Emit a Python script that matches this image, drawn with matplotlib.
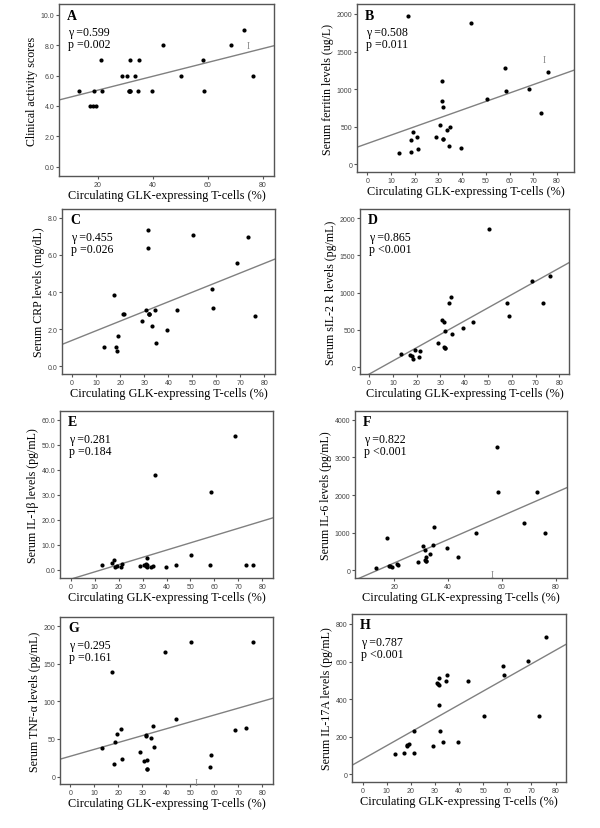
import numpy as np
import matplotlib
matplotlib.use("Agg")
import matplotlib.pyplot as plt

# Shared x: circulating GLK-expressing T-cells (%)
glk = [13.3, 17.3, 18.2, 18.6, 19.3, 21.1, 21.5, 29.0, 30.8, 31.4, 31.5, 31.8, 31.8,
       31.9, 33.4, 34.5, 35.0, 39.6, 43.8, 50.4, 58.1, 58.6, 68.4, 73.2, 76.2]

activity = [5, 4, 4, 5, 4, 7, 5, 6, 6, 5, 5, 7, 5, 5, 6, 5, 7, 5, 8, 6, 7, 5, 8, 9, 6]
ferritin = [155, 1969, 168, 327, 429, 358, 204, 358, 522, 1110, 836, 761, 336, 336,
            460, 239, 500, 217, 1876, 872, 1288, 982, 996, 677, 1230]
crp = [1.04, 3.84, 1.04, 0.84, 1.63, 2.80, 2.83, 2.44, 3.03, 7.35, 6.39, 2.83, 2.80,
       2.80, 2.19, 3.05, 1.24, 1.96, 3.01, 7.05, 4.14, 3.14, 5.54, 6.94, 2.71]
sil2r = [179, 161, 152, 103, 229, 130, 220, 327, 632, 601, 269, 480, 256, 256,
         857, 946, 439, 520, 605, 1857, 857, 682, 1152, 857, 1224]
il1b = [2.0, 2.8, 4.0, 1.2, 1.6, 1.3, 2.5, 1.6, 2.1, 2.5, 1.7, 4.8, 1.3, 2.0,
        1.2, 1.7, 38.1, 1.3, 2.1, 5.8, 2.1, 31.2, 53.7, 2.1, 2.1]
il6 = [71, 865, 124, 106, 88, 159, 141, 212, 636, 274, 539, 362, 238, 238,
       433, 680, 1157, 583, 344, 998, 3267, 2093, 1245, 2075, 998]
tnfa = [37.7, 138.8, 17.3, 46.6, 57.2, 63.4, 23.1, 33.3, 20.8, 54.1, 55.4, 22.6, 10.2,
        10.2, 51.9, 67.4, 39.9, 165.0, 76.7, 178.3, 12.4, 28.8, 61.6, 64.7, 178.3]
il17a = [106, 115, 149, 156, 163, 230, 111, 149, 488, 480, 370, 510, 476, 228,
         172, 499, 531, 173, 496, 310, 575, 529, 605, 310, 733]

letters = ["A", "B", "C", "D", "E", "F", "G", "H"]
ylabels = ["Clinical activity scores", "Serum ferritin levels (ug/L)",
           "Serum CRP levels (mg/dL)", "Serum sIL-2 R levels (pg/mL)",
           "Serum IL-1β levels (pg/mL)", "Serum IL-6 levels (pg/mL)",
           "Serum TNF-α levels (pg/mL)", "Serum IL-17A levels (pg/mL)"]
gammas = ["γ =0.599", "γ =0.508", "γ =0.455", "γ =0.865",
          "γ =0.281", "γ =0.822", "γ =0.295", "γ =0.787"]
pvals = ["p =0.002", "p =0.011", "p =0.026", "p <0.001",
         "p =0.184", "p <0.001", "p =0.161", "p <0.001"]
series = [activity, ferritin, crp, sil2r, il1b, il6, tnfa, il17a]

yticks = [[0, 2, 4, 6, 8, 10], [0, 500, 1000, 1500, 2000], [0, 2, 4, 6, 8],
          [0, 500, 1000, 1500, 2000], [0, 10, 20, 30, 40, 50, 60],
          [0, 1000, 2000, 3000, 4000], [0, 50, 100, 150, 200],
          [0, 200, 400, 600, 800]]
yfmt = ["{:.1f}", "{:d}", "{:.1f}", "{:d}", "{:.1f}", "{:d}", "{:d}", "{:d}"]
xticks = [[20, 40, 60, 80], list(range(0, 90, 10)), list(range(0, 90, 10)),
          list(range(0, 90, 10)), list(range(0, 90, 10)), [20, 40, 60, 80],
          list(range(0, 90, 10)), list(range(0, 90, 10))]
xlims = [(6, 84), (-4.4, 87.2), (-4.2, 84.4), (-3.8, 84), (-4.4, 84.4),
         (5.5, 84.2), (-4.3, 84.4), (-4.4, 84.3)]
ylims = [(-0.6, 10.7), (-102, 2133), (-0.41, 8.47), (-94, 2125), (-3.3, 63.5),
         (-203, 4230), (-9.8, 212), (-41, 853)]
# pixel boxes (left, right, top, bottom)
boxes = [(59, 274, 5, 177), (357, 574, 5, 173), (62, 275, 210, 375),
         (360, 569, 210, 375), (60, 273, 412, 579), (355, 567, 412, 579),
         (60, 273, 618, 785), (352, 566, 615, 783)]
# cursor-like "I" markers present in the source image (data coords)
imarks = {0: (74.6, 8.0), 1: (74.8, 1389), 5: (56.3, -100), 6: (52.6, -7.5)}

W, H = 600, 829
fig = plt.figure(figsize=(W / 100, H / 100), dpi=100)
serif = ["Liberation Serif", "DejaVu Serif"]
sans = ["Liberation Sans", "DejaVu Sans"]
edge = "#555555"

for i in range(8):
    l, r, t, b = boxes[i]
    ax = fig.add_axes([l / W, 1 - b / H, (r - l) / W, (b - t) / H])
    x = np.array(glk, dtype=float)
    y = np.array(series[i], dtype=float)
    ax.scatter(x, y, s=9, color="black", zorder=3, linewidths=0)
    k, c = np.polyfit(x, y, 1)
    xl = np.array(xlims[i])
    ax.plot(xl, k * xl + c, color="#808080", lw=1.0, zorder=2)
    ax.set_xlim(*xlims[i])
    ax.set_ylim(*ylims[i])
    ax.set_xticks(xticks[i])
    ax.set_xticklabels([str(v) for v in xticks[i]], fontsize=5, family=sans, color="#444444")
    ax.set_yticks(yticks[i])
    ax.set_yticklabels([yfmt[i].format(v) for v in yticks[i]], fontsize=5, family=sans, color="#444444")
    ax.tick_params(direction="out", length=2.5, width=0.8, color=edge, pad=1)
    for sp in ax.spines.values():
        sp.set_color(edge)
        sp.set_linewidth(1.0)
    ax.set_xlabel("Circulating GLK-expressing T-cells (%)", family=serif, fontsize=8.8, labelpad=0.5)
    ax.set_ylabel(ylabels[i], family=serif, fontsize=8.6, labelpad=1.5)
    ax.annotate(letters[i], xy=(0, 1), xycoords="axes fraction", xytext=(8, -11),
                textcoords="offset pixels", ha="left", va="center",
                family=serif, fontsize=10, fontweight="bold")
    ax.annotate(gammas[i], xy=(0, 1), xycoords="axes fraction", xytext=(9, -28),
                textcoords="offset pixels", ha="left", va="center",
                family=serif, fontsize=8.6)
    ax.annotate(pvals[i], xy=(0, 1), xycoords="axes fraction", xytext=(9, -40),
                textcoords="offset pixels", ha="left", va="center",
                family=serif, fontsize=8.6)
    if i in imarks:
        ax.text(imarks[i][0], imarks[i][1], "I", family=serif, fontsize=7,
                color="#888888", ha="center", va="center")

fig.savefig("out.png", dpi=100)
